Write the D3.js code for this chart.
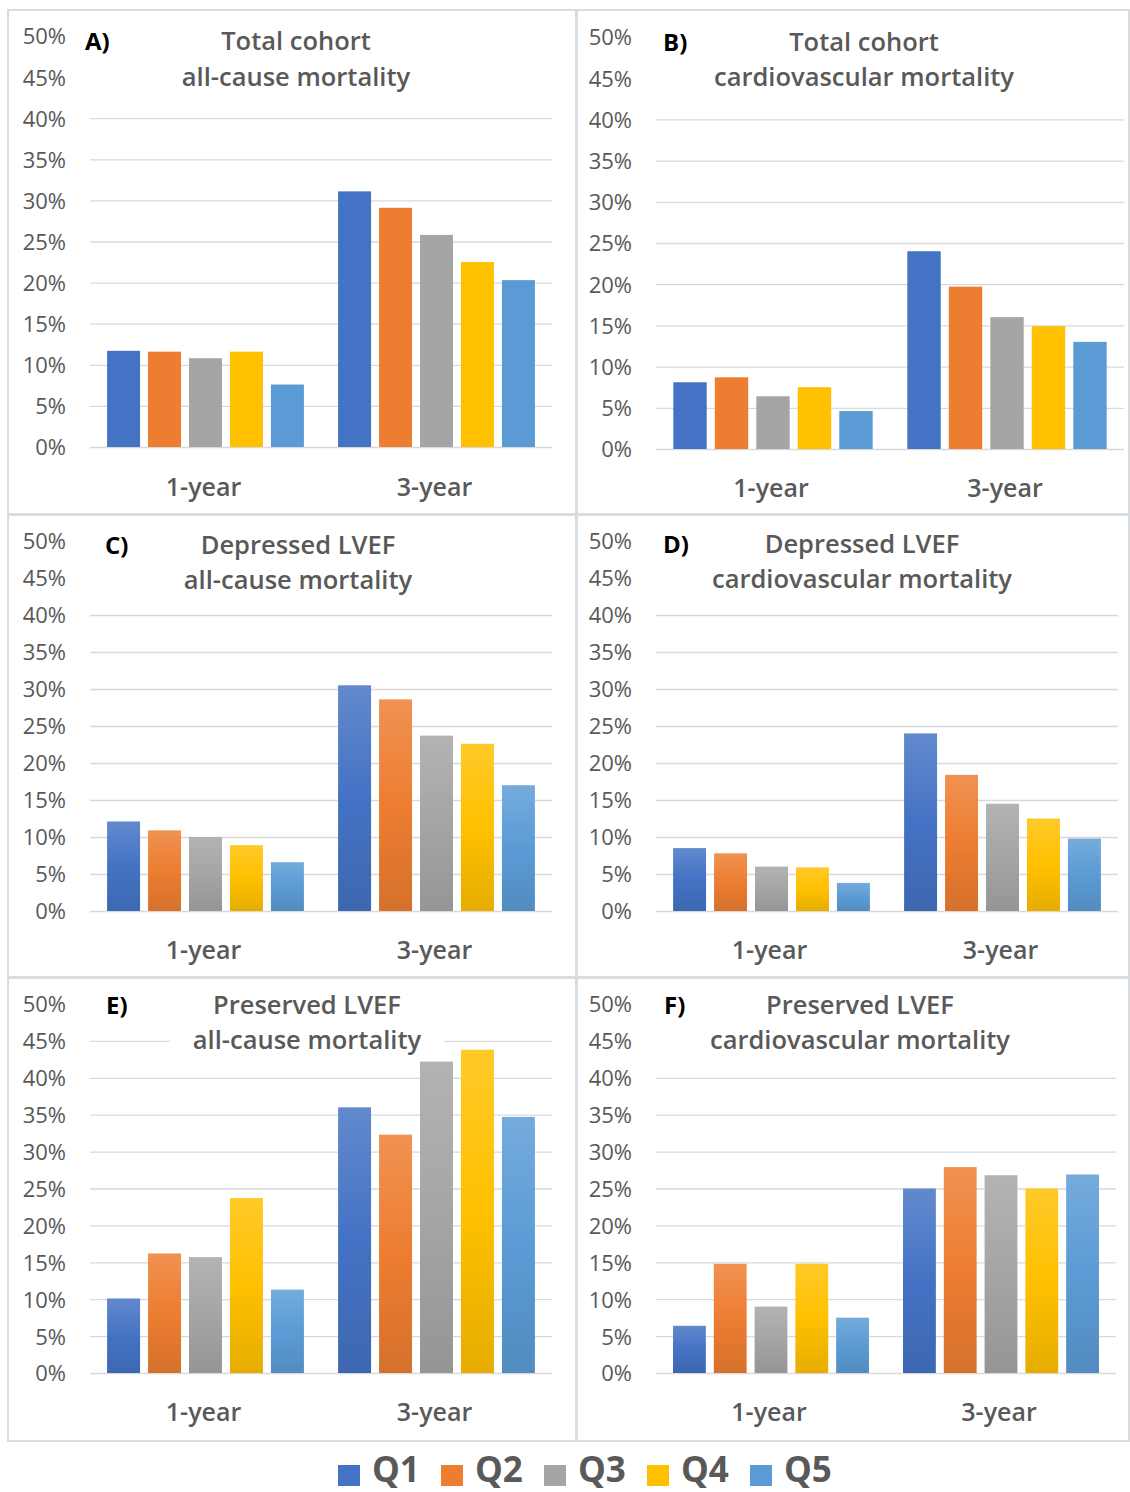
<!DOCTYPE html>
<html><head><meta charset="utf-8">
<script src="https://cdn.jsdelivr.net/npm/d3@7"></script>
<style>body{margin:0;background:#fff} svg{display:block}</style>
</head><body>
<script>
// ---------------- data ----------------
const categories = ["1-year", "3-year"];
const series = ["Q1", "Q2", "Q3", "Q4", "Q5"];
const seriesColors = ["#4472C4", "#ED7D31", "#A5A5A5", "#FFC000", "#5B9BD5"];
const yTicks = [0, 5, 10, 15, 20, 25, 30, 35, 40, 45, 50];
const panelLetters = ["A)", "B)", "C)", "D)", "E)", "F)"];
const titleLine1 = ["Total cohort", "Total cohort", "Depressed LVEF", "Depressed LVEF", "Preserved LVEF", "Preserved LVEF"];
const titleLine2 = ["all-cause mortality", "cardiovascular mortality", "all-cause mortality", "cardiovascular mortality", "all-cause mortality", "cardiovascular mortality"];
// values per category (1-year, 3-year), per quintile Q1..Q5, in %
const valuesA = [[11.7, 11.6, 10.8, 11.6, 7.6], [31.1, 29.1, 25.8, 22.5, 20.3]];
const valuesB = [[8.1, 8.7, 6.4, 7.5, 4.6], [24.0, 19.7, 16.0, 14.9, 13.0]];
const valuesC = [[12.1, 10.9, 10.0, 8.9, 6.6], [30.5, 28.6, 23.7, 22.6, 17.0]];
const valuesD = [[8.5, 7.8, 6.0, 5.9, 3.8], [24.0, 18.4, 14.5, 12.5, 9.8]];
const valuesE = [[10.1, 16.2, 15.7, 23.7, 11.3], [36.0, 32.3, 42.2, 43.8, 34.7]];
const valuesF = [[6.4, 14.8, 9.0, 14.8, 7.5], [25.0, 27.9, 26.8, 25.0, 26.9]];
const panelValues = [valuesA, valuesB, valuesC, valuesD, valuesE, valuesF];

// ---------------- layout ----------------
const W = 1130, H = 1492;
const layout = [
  {box: [8, 10, 568, 504], x: [90, 552], y0: 447, y50: 36, tx: 296, t1: 41, t2: 77, lx: 85, cat: 487, grad: false, gridMax: 40},
  {box: [577, 10, 552, 504], x: [656, 1124], y0: 449, y50: 37, tx: 864, t1: 42, t2: 77, lx: 663, cat: 488, grad: false, gridMax: 40},
  {box: [8, 515, 568, 462], x: [90, 552], y0: 911, y50: 541, tx: 298, t1: 545, t2: 580, lx: 105, cat: 950, grad: true, gridMax: 40},
  {box: [577, 515, 552, 462], x: [656, 1118], y0: 911, y50: 541, tx: 862, t1: 544, t2: 579, lx: 663, cat: 950, grad: true, gridMax: 40},
  {box: [8, 978, 568, 463], x: [90, 552], y0: 1373, y50: 1004, tx: 307, t1: 1005, t2: 1040, lx: 106, cat: 1412, grad: true, gridMax: 45},
  {box: [577, 978, 552, 463], x: [656, 1116], y0: 1373, y50: 1004, tx: 860, t1: 1005, t2: 1040, lx: 664, cat: 1412, grad: true, gridMax: 40}
];

const FONT = "'Open Sans', Lato, sans-serif";
const TEXT = "#595959";
const GRID = "#D9D9D9";

const svg = d3.select("body").append("svg").attr("width", W).attr("height", H)
  .style("font-family", FONT);
svg.append("rect").attr("width", W).attr("height", H).attr("fill", "#fff");

// gradients
const defs = svg.append("defs");
seriesColors.forEach((c, i) => {
  const g = defs.append("linearGradient").attr("id", "grad" + i)
    .attr("x1", 0).attr("y1", 0).attr("x2", 0).attr("y2", 1);
  g.append("stop").attr("offset", "0%").attr("stop-color", d3.interpolateRgb(c, "#fff")(0.16));
  g.append("stop").attr("offset", "50%").attr("stop-color", c);
  g.append("stop").attr("offset", "100%").attr("stop-color", d3.interpolateRgb(c, "#000")(0.1));
});

layout.forEach((L, p) => {
  const g = svg.append("g");
  // panel border
  g.append("rect").attr("x", L.box[0]).attr("y", L.box[1]).attr("width", L.box[2]).attr("height", L.box[3])
    .attr("fill", "none").attr("stroke", "#DADDE0").attr("stroke-width", 2);

  const y = d3.scaleLinear().domain([0, 50]).range([L.y0, L.y50]);
  const x0 = d3.scaleBand().domain(categories).range(L.x).paddingInner(0).paddingOuter(0);
  const bw = x0.bandwidth();
  const pad = bw * 0.074;
  const x1 = d3.scaleBand().domain(series).range([pad, bw - pad]).paddingInner(0.195).paddingOuter(0);

  // gridlines
  const grid = g.append("g").attr("transform", `translate(${L.x[0]},0)`)
    .call(d3.axisLeft(y).tickValues(yTicks.filter(t => t <= L.gridMax)).tickSize(-(L.x[1] - L.x[0])).tickFormat(""));
  grid.select(".domain").remove();
  grid.selectAll(".tick line").attr("stroke", GRID).attr("stroke-width", 1.3);

  // y tick labels
  const ya = g.append("g").attr("transform", `translate(${L.x[0] - 24},0)`)
    .call(d3.axisLeft(y).tickValues(yTicks).tickSize(0).tickPadding(0).tickFormat(d => d + "%"));
  ya.select(".domain").remove();
  ya.selectAll("text").attr("fill", TEXT).style("font-size", "22px").style("font-family", FONT)
    .style("font-weight", 500).attr("dy", "0.36em");

  // bars
  const vals = panelValues[p];
  categories.forEach((cat, ci) => {
    g.append("g").attr("transform", `translate(${x0(cat)},0)`)
      .selectAll("rect").data(vals[ci]).join("rect")
      .attr("x", (d, i) => x1(series[i]))
      .attr("width", x1.bandwidth())
      .attr("y", d => y(d))
      .attr("height", d => y(0) - y(d))
      .attr("fill", (d, i) => L.grad ? `url(#grad${i})` : seriesColors[i]);
  });

  // category labels
  const xa = g.append("g").attr("transform", `translate(0,${L.cat})`)
    .call(d3.axisBottom(x0).tickSize(0).tickPadding(0));
  xa.select(".domain").remove();
  xa.selectAll("text").attr("fill", TEXT).attr("y", 0).attr("dy", "0.36em").attr("dx", -2)
    .style("font-size", "25px").style("font-family", FONT).style("font-weight", 600);

  // title with white background
  const tg = g.append("g");
  const bg = tg.append("rect").attr("fill", "#fff");
  const t1 = tg.append("text").attr("x", L.tx).attr("y", L.t1).attr("dy", "0.36em").attr("text-anchor", "middle")
    .attr("fill", TEXT).style("font-size", "25.5px").style("font-weight", 600).text(titleLine1[p]);
  const t2 = tg.append("text").attr("x", L.tx).attr("y", L.t2).attr("dy", "0.36em").attr("text-anchor", "middle")
    .attr("fill", TEXT).style("font-size", "25.5px").style("font-weight", 600).text(titleLine2[p]);
  const b = t2.node().getBBox();
  bg.attr("x", b.x - 23).attr("y", b.y - 4).attr("width", b.width + 46).attr("height", b.height + 8);

  g.append("text").attr("x", L.lx).attr("y", L.t1).attr("dy", "0.36em")
    .attr("fill", "#000").style("font-size", "24px").style("font-weight", 700).text(panelLetters[p]);
});

// legend
const legX = d3.scaleBand().domain(series).range([338, 338 + 5 * 103]);
const leg = svg.append("g").attr("transform", "translate(0,1475)");
const items = leg.selectAll("g").data(series).join("g")
  .attr("transform", d => `translate(${legX(d)},0)`);
items.append("rect").attr("x", 0).attr("y", -10).attr("width", 22).attr("height", 21)
  .attr("fill", (d, i) => seriesColors[i]);
items.append("text").attr("x", 34).attr("y", 7)
  .attr("fill", TEXT).style("font-size", "35px").style("font-weight", 700).text(d => d);
</script>
</body></html>
